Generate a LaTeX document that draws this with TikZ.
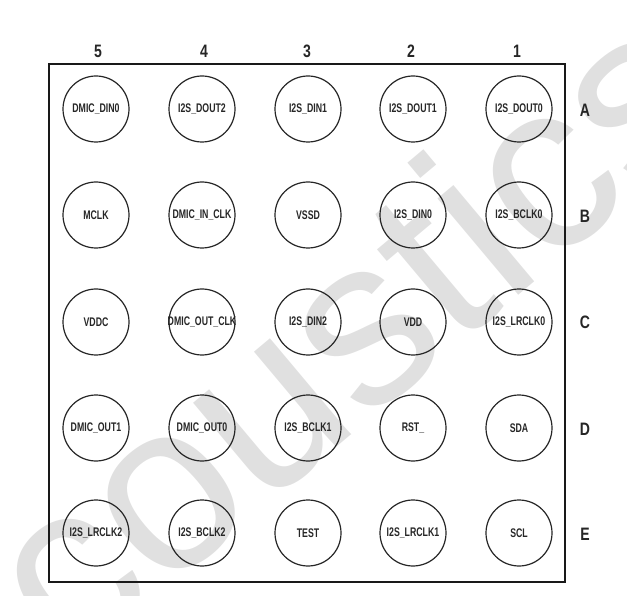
\documentclass[tikz,border=0pt]{standalone}
\usepackage{fontspec}
\setmainfont{Liberation Sans}
\newfontfamily\pinfont[FakeStretch=0.7]{Liberation Sans Bold}
\newfontfamily\markfont[FakeStretch=0.78]{Liberation Sans Bold}
\newfontfamily\wmfont{Liberation Sans}
\begin{document}
\begin{tikzpicture}[x=1pt,y=-1pt,
  pinball/.style={draw=black!85,line width=1.2pt,circle,minimum size=66pt,inner sep=0pt,
    text=black!85,font=\pinfont\fontsize{12.5}{13}\selectfont},
  axislbl/.style={text=black!85,font=\markfont\fontsize{18}{18}\selectfont,inner sep=0pt},
  frame/.style={draw=black!90,line width=2.2pt}]
\useasboundingbox (0,0) rectangle (627,596);
% watermark
\node[rotate=40,text=black!12,font=\wmfont\fontsize{238}{240}\selectfont,inner sep=0pt] (wm) at (345,330) {coustics};
% frame
\draw[frame] (49,64) rectangle (565,582);
% column numbers
\node[axislbl] (c5) at (98,51) {5};
\node[axislbl] (c4) at (204,51) {4};
\node[axislbl] (c3) at (307,51) {3};
\node[axislbl] (c2) at (411,51) {2};
\node[axislbl] (c1) at (517,51) {1};
% row letters
\node[axislbl] (rA) at (585,110) {A};
\node[axislbl] (rB) at (585,216) {B};
\node[axislbl] (rC) at (585,322) {C};
\node[axislbl] (rD) at (585,429) {D};
\node[axislbl] (rE) at (585,534) {E};
% row A
\node[pinball] (A5) at (96,109) {\makebox[0pt]{DMIC\_DIN0}};
\node[pinball] (A4) at (202,109) {\makebox[0pt]{I2S\_DOUT2}};
\node[pinball] (A3) at (308,109) {\makebox[0pt]{I2S\_DIN1}};
\node[pinball] (A2) at (413,109) {\makebox[0pt]{I2S\_DOUT1}};
\node[pinball] (A1) at (519,109) {\makebox[0pt]{I2S\_DOUT0}};
% row B
\node[pinball] (B5) at (96,215) {\makebox[0pt]{MCLK}};
\node[pinball] (B4) at (202,215) {\makebox[0pt]{DMIC\_IN\_CLK}};
\node[pinball] (B3) at (308,215) {\makebox[0pt]{VSSD}};
\node[pinball] (B2) at (413,215) {\makebox[0pt]{I2S\_DIN0}};
\node[pinball] (B1) at (519,215) {\makebox[0pt]{I2S\_BCLK0}};
% row C
\node[pinball] (C5) at (96,322) {\makebox[0pt]{VDDC}};
\node[pinball] (C4) at (202,322) {\makebox[0pt]{DMIC\_OUT\_CLK}};
\node[pinball] (C3) at (308,322) {\makebox[0pt]{I2S\_DIN2}};
\node[pinball] (C2) at (413,322) {\makebox[0pt]{VDD}};
\node[pinball] (C1) at (519,322) {\makebox[0pt]{I2S\_LRCLK0}};
% row D
\node[pinball] (D5) at (96,428) {\makebox[0pt]{DMIC\_OUT1}};
\node[pinball] (D4) at (202,428) {\makebox[0pt]{DMIC\_OUT0}};
\node[pinball] (D3) at (308,428) {\makebox[0pt]{I2S\_BCLK1}};
\node[pinball] (D2) at (413,428) {\makebox[0pt]{RST\_}};
\node[pinball] (D1) at (519,428) {\makebox[0pt]{SDA}};
% row E
\node[pinball] (E5) at (96,533) {\makebox[0pt]{I2S\_LRCLK2}};
\node[pinball] (E4) at (202,533) {\makebox[0pt]{I2S\_BCLK2}};
\node[pinball] (E3) at (308,533) {\makebox[0pt]{TEST}};
\node[pinball] (E2) at (413,533) {\makebox[0pt]{I2S\_LRCLK1}};
\node[pinball] (E1) at (519,533) {\makebox[0pt]{SCL}};
\end{tikzpicture}
\end{document}
